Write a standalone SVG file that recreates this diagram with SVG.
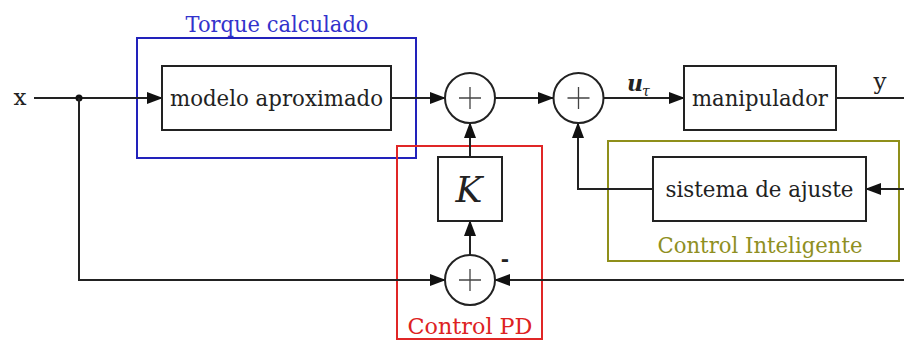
<svg xmlns="http://www.w3.org/2000/svg" width="904" height="341" viewBox="0 0 904 341">
<style>
.blk{fill:#fff;stroke:#222;stroke-width:2}
.sum{fill:#fff;stroke:#222;stroke-width:2}
.plus{stroke:#444;stroke-width:1.3;fill:none}
.ln{fill:none;stroke:#222;stroke-width:2}
.grp{fill:none;stroke-width:2}
</style>
<defs>
<marker id="ah" markerUnits="userSpaceOnUse" markerWidth="16" markerHeight="12" refX="15" refY="6" orient="auto">
<path d="M0,0 L16,6 L0,12 Z" fill="#111"/>
</marker>
</defs>
<rect width="904" height="341" fill="#fff"/>

<g id="group-torque">
<rect class="grp" x="137" y="38" width="279" height="120" stroke="#2222bb"/>
<text x="277" y="32" text-anchor="middle" font-family="DejaVu Serif, serif" font-size="22" fill="#3333cc" textLength="183" lengthAdjust="spacingAndGlyphs">Torque calculado</text>
</g>
<g id="group-pd">
<rect class="grp" x="397" y="146" width="145" height="193" stroke="#e02626"/>
<text x="470" y="334" text-anchor="middle" font-family="DejaVu Serif, serif" font-size="22" fill="#dd2222" textLength="125" lengthAdjust="spacingAndGlyphs">Control PD</text>
</g>
<g id="group-inteligente">
<rect class="grp" x="608" y="141" width="291" height="120" stroke="#8f8f1a"/>
<text x="760" y="253" text-anchor="middle" font-family="DejaVu Serif, serif" font-size="22" fill="#8f8f22" textLength="205" lengthAdjust="spacingAndGlyphs">Control Inteligente</text>
</g>

<g id="connectors">
<line class="ln" x1="34" y1="98" x2="162" y2="98" marker-end="url(#ah)"/>
<circle cx="79" cy="98" r="3.5" fill="#111"/>
<line class="ln" x1="391" y1="98" x2="445" y2="98" marker-end="url(#ah)"/>
<line class="ln" x1="495" y1="98" x2="553" y2="98" marker-end="url(#ah)"/>
<line class="ln" x1="604" y1="98" x2="684" y2="98" marker-end="url(#ah)"/>
<line class="ln" x1="836" y1="98" x2="904" y2="98"/>
<line class="ln" x1="904" y1="189" x2="866" y2="189" marker-end="url(#ah)"/>
<polyline class="ln" points="653,189 578,189 578,123" marker-end="url(#ah)"/>
<line class="ln" x1="470" y1="157" x2="470" y2="123" marker-end="url(#ah)"/>
<line class="ln" x1="470" y1="255" x2="470" y2="221" marker-end="url(#ah)"/>
<polyline class="ln" points="79,98 79,280 445,280" marker-end="url(#ah)"/>
<line class="ln" x1="904" y1="280" x2="495" y2="280" marker-end="url(#ah)"/>
</g>

<g id="label-x"><text x="20" y="105" text-anchor="middle" font-family="DejaVu Serif, serif" font-size="23" fill="#222">x</text></g>
<g id="label-y"><text x="880" y="89" text-anchor="middle" font-family="DejaVu Serif, serif" font-size="23" fill="#222">y</text></g>
<g id="label-u">
<text x="627" y="91" font-family="DejaVu Serif, serif" font-size="22" font-weight="bold" font-style="italic" fill="#222">u</text>
<text x="642" y="96" font-family="DejaVu Serif, serif" font-size="14" font-style="italic" fill="#222">τ</text>
</g>
<g id="label-minus"><text x="505" y="266" text-anchor="middle" font-family="DejaVu Sans, sans-serif" font-size="20" font-weight="bold" fill="#222">-</text></g>

<g id="node-modelo">
<rect class="blk" x="162" y="66" width="229" height="64"/>
<text x="276.5" y="106" text-anchor="middle" font-family="DejaVu Serif, serif" font-size="23" fill="#222" textLength="213" lengthAdjust="spacingAndGlyphs">modelo aproximado</text>
</g>
<g id="node-manipulador">
<rect class="blk" x="684" y="66" width="152" height="64"/>
<text x="760" y="106" text-anchor="middle" font-family="DejaVu Serif, serif" font-size="23" fill="#222" textLength="136" lengthAdjust="spacingAndGlyphs">manipulador</text>
</g>
<g id="node-ajuste">
<rect class="blk" x="653" y="157" width="213" height="64"/>
<text x="759.5" y="197" text-anchor="middle" font-family="DejaVu Serif, serif" font-size="23" fill="#222" textLength="188" lengthAdjust="spacingAndGlyphs">sistema de ajuste</text>
</g>
<g id="node-K">
<rect class="blk" x="438" y="157" width="64" height="64"/>
<text x="469" y="202" text-anchor="middle" font-family="DejaVu Serif, serif" font-size="36" font-style="italic" fill="#222">K</text>
</g>
<g id="node-sum1">
<circle class="sum" cx="470" cy="98" r="25"/>
<path class="plus" d="M459,98 H481 M470,87 V109"/>
</g>
<g id="node-sum2">
<circle class="sum" cx="578.5" cy="98" r="25"/>
<path class="plus" d="M567.5,98 H589.5 M578.5,87 V109"/>
</g>
<g id="node-sum3">
<circle class="sum" cx="470" cy="280" r="25"/>
<path class="plus" d="M459,280 H481 M470,269 V291"/>
</g>
</svg>
